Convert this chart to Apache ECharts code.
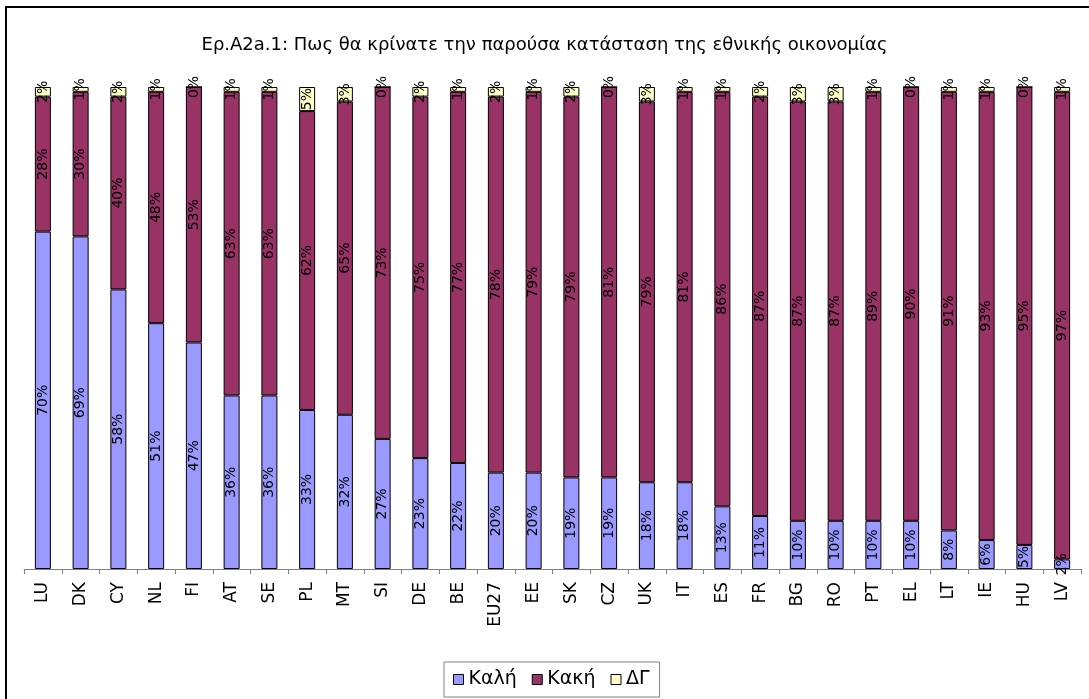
<!DOCTYPE html>
<html>
<head>
<meta charset="utf-8">
<script src="https://cdn.jsdelivr.net/npm/echarts@6/dist/echarts.min.js"></script>
<style>
html,body{margin:0;padding:0;background:#fff;}
#chart{width:1089px;height:699px;}
</style>
</head>
<body>
<div id="chart"></div>
<script>
const titleText = 'Ερ.A2a.1: Πως θα κρίνατε την παρούσα κατάσταση της εθνικής οικονομίας';
const categories = ['LU','DK','CY','NL','FI','AT','SE','PL','MT','SI','DE','BE','EU27','EE','SK','CZ','UK','IT','ES','FR','BG','RO','PT','EL','LT','IE','HU','LV'];
const kali = [70,69,58,51,47,36,36,33,32,27,23,22,20,20,19,19,18,18,13,11,10,10,10,10,8,6,5,2];
const kaki = [28,30,40,48,53,63,63,62,65,73,75,77,78,79,79,81,79,81,86,87,87,87,89,90,91,93,95,97];
const dg   = [2,1,2,1,0,1,1,5,3,0,2,1,2,1,2,0,3,1,1,2,3,3,1,0,1,1,0,1];
const seriesNames = ['Καλή','Κακή','ΔΓ'];
const colors = ['#9999FF','#993366','#FFFFCC'];

const FONT = 'DejaVu Sans';
const chart = echarts.init(document.getElementById('chart'), null, {renderer:'canvas'});

function mkSeries(name, data, color){
  return {
    name: name,
    type: 'bar',
    stack: 'total',
    data: data,
    barWidth: 16,
    itemStyle: {color: color, borderColor: '#000', borderWidth: 1},
    label: {
      show: true,
      position: 'inside',
      rotate: 90,
      formatter: p => p.value + '%',
      color: '#000',
      fontFamily: FONT,
      fontSize: 14
    },
    emphasis: {disabled: true},
    animation: false
  };
}

chart.setOption({
  animation: false,
  title: {
    text: titleText,
    left: 'center',
    top: 31,
    textStyle: {fontFamily: FONT, fontSize: 18, fontWeight: 'normal', color: '#000'}
  },
  graphic: [{
    type: 'rect',
    shape: {x: 6, y: 7, width: 1100, height: 720},
    style: {fill: 'none', stroke: '#000', lineWidth: 2},
    silent: true
  }],
  legend: {
    data: seriesNames,
    left: 444,
    top: 662,
    itemWidth: 10,
    itemHeight: 10,
    itemGap: 15,
    padding: [8, 10, 8, 9],
    borderColor: '#808080',
    borderWidth: 1,
    icon: 'rect',
    itemStyle: {borderColor: '#000', borderWidth: 1},
    textStyle: {fontFamily: FONT, fontSize: 19, color: '#000', padding: [0,0,0,0]}
  },
  grid: {left: 24, right: 8, top: 87, bottom: 130, containLabel: false},
  xAxis: {
    type: 'category',
    data: categories,
    boundaryGap: true,
    axisLine: {lineStyle: {color: '#808080', width: 1}},
    axisTick: {show: true, length: 5, lineStyle: {color: '#808080'}},
    axisLabel: {rotate: 90, fontFamily: FONT, fontSize: 17, color: '#000', margin: 13, interval: 0}
  },
  yAxis: {
    type: 'value',
    min: 0,
    max: 100,
    show: false,
    splitLine: {show: false}
  },
  series: [
    mkSeries(seriesNames[0], kali, colors[0]),
    mkSeries(seriesNames[1], kaki, colors[1]),
    mkSeries(seriesNames[2], dg, colors[2])
  ]
});
</script>
</body>
</html>
